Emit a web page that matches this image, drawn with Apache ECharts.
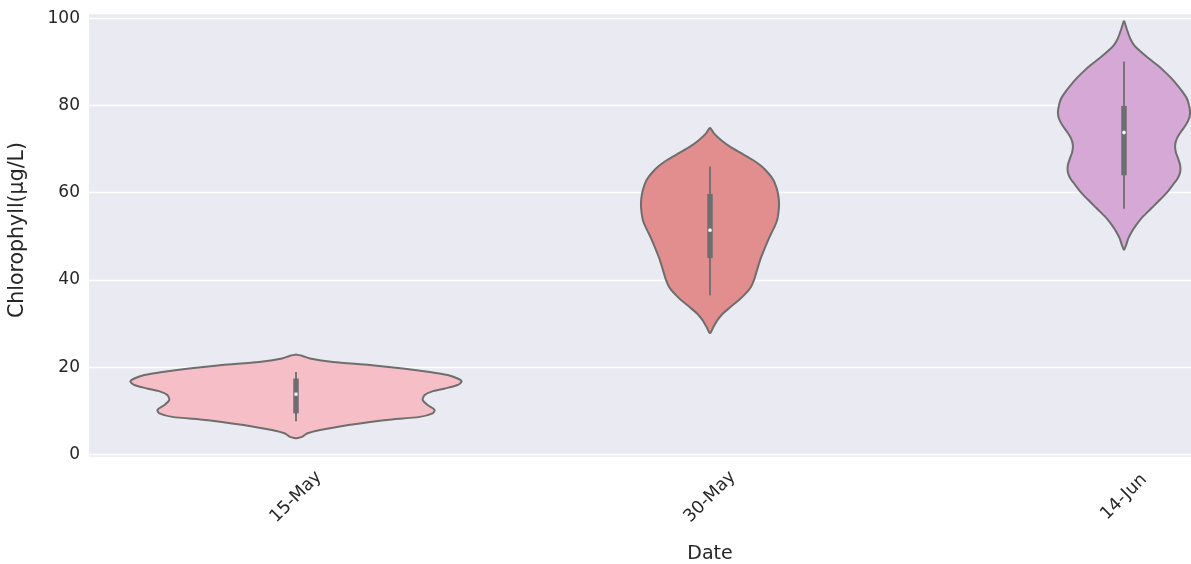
<!DOCTYPE html>
<html>
<head>
<meta charset="utf-8">
<script src="https://cdn.jsdelivr.net/npm/echarts@6/dist/echarts.min.js"></script>
<style>
  html, body { margin: 0; padding: 0; background: #ffffff; }
  #chart { width: 1191px; height: 564px; }
</style>
</head>
<body>
<div id="chart"></div>
<script>
// Sampling dates (categories)
const categories = ['15-May', '30-May', '14-Jun'];

// Violin outlines: chlorophyll level (µg/L) and relative kernel density at that level
const may15Levels  = [22.9, 22.6, 22.0, 21.2, 20.5, 19.7, 18.9, 18.2, 17.4, 16.7, 15.9, 15.1, 14.4, 13.6, 12.5, 11.3, 10.2, 9.4, 8.6, 7.9, 7.1, 6.3, 5.6, 4.8, 4.0, 3.7];
const may15Density = [0, 0.036, 0.084, 0.223, 0.446, 0.645, 0.807, 0.916, 0.976, 1.0, 0.976, 0.898, 0.819, 0.777, 0.765, 0.795, 0.837, 0.825, 0.747, 0.548, 0.386, 0.247, 0.145, 0.066, 0.036, 0];

const may30Levels  = [74.8, 73.6, 72.1, 70.5, 69.0, 67.5, 66.0, 64.4, 62.9, 61.4, 59.9, 57.6, 55.3, 53.7, 52.2, 50.7, 49.2, 47.6, 46.1, 44.6, 43.0, 41.5, 40.0, 38.4, 36.9, 35.4, 33.9, 32.3, 30.8, 29.3, 27.9];
const may30Density = [0.003, 0.024, 0.066, 0.123, 0.191, 0.259, 0.313, 0.354, 0.383, 0.399, 0.410, 0.417, 0.413, 0.405, 0.390, 0.370, 0.352, 0.334, 0.318, 0.303, 0.290, 0.278, 0.266, 0.247, 0.216, 0.175, 0.127, 0.078, 0.045, 0.022, 0.004];

const jun14Levels  = [99.3, 97.6, 95.3, 93.8, 92.3, 90.7, 89.2, 87.7, 86.2, 84.6, 83.1, 81.6, 80.0, 78.5, 77.0, 75.5, 73.9, 72.4, 70.9, 69.3, 67.8, 66.3, 64.7, 63.2, 61.7, 60.2, 58.6, 57.1, 55.6, 54.0, 52.5, 51.0, 49.5, 47.9, 47.0];
const jun14Density = [0.002, 0.016, 0.038, 0.062, 0.102, 0.152, 0.203, 0.247, 0.287, 0.323, 0.354, 0.380, 0.393, 0.399, 0.393, 0.373, 0.343, 0.319, 0.309, 0.313, 0.327, 0.339, 0.339, 0.323, 0.293, 0.263, 0.223, 0.183, 0.143, 0.102, 0.072, 0.046, 0.026, 0.012, 0.002];

// Inner box statistics per date
const whiskerLow  = [7.6, 36.5, 56.3];
const quartile1   = [9.4, 45.0, 64.0];
const medians     = [13.8, 51.4, 73.8];
const quartile3   = [17.4, 59.7, 79.9];
const whiskerHigh = [18.9, 66.0, 90.1];

// Y axis tick labels
const yTicks = [0, 20, 40, 60, 80, 100];

const violinColors = ['#F6BFC7', '#E28E8E', '#D5A8D5'];
const outlineGray = '#6E6E6E';
const textColor = '#262626';
const FONT = 'DejaVu Sans';

const profiles = [
  { levels: may15Levels, density: may15Density },
  { levels: may30Levels, density: may30Density },
  { levels: jun14Levels, density: jun14Density }
];

function renderViolin(params, api) {
  const i = api.value(0);
  const prof = profiles[i];
  const band = api.size([1, 0])[0];
  const cx = api.coord([i, 0])[0];
  const halfMax = 0.4 * band;
  const right = [];
  const left = [];
  for (let k = 0; k < prof.levels.length; k++) {
    const y = api.coord([i, prof.levels[k]])[1];
    const w = prof.density[k] * halfMax;
    right.push([cx + w, y]);
    left.unshift([cx - w, y]);
  }
  const yLo = api.coord([i, whiskerLow[i]])[1];
  const yHi = api.coord([i, whiskerHigh[i]])[1];
  const yQ1 = api.coord([i, quartile1[i]])[1];
  const yQ3 = api.coord([i, quartile3[i]])[1];
  const yMed = api.coord([i, medians[i]])[1];
  return {
    type: 'group',
    children: [
      {
        type: 'polygon',
        shape: { points: right.concat(left), smooth: 0.25 },
        style: { fill: violinColors[i], stroke: outlineGray, lineWidth: 2, lineJoin: 'round' }
      },
      {
        type: 'line',
        shape: { x1: cx, y1: yLo, x2: cx, y2: yHi },
        style: { stroke: outlineGray, lineWidth: 1.8 }
      },
      {
        type: 'line',
        shape: { x1: cx, y1: yQ1, x2: cx, y2: yQ3 },
        style: { stroke: outlineGray, lineWidth: 5.5, lineCap: 'butt' }
      },
      {
        type: 'circle',
        shape: { cx: cx, cy: yMed, r: 1.9 },
        style: { fill: '#ffffff', stroke: outlineGray, lineWidth: 0.3 }
      }
    ]
  };
}

const chart = echarts.init(document.getElementById('chart'), null, { renderer: 'canvas' });
chart.setOption({
  animation: false,
  backgroundColor: '#ffffff',
  textStyle: { fontFamily: FONT },
  grid: {
    left: 89, top: 13, width: 1242, height: 444,
    show: true, backgroundColor: '#EAEAF2', borderWidth: 0,
    containLabel: false, outerBoundsMode: 'none'
  },
  xAxis: {
    type: 'category',
    data: categories,
    boundaryGap: true,
    axisLine: { show: false },
    axisTick: { show: false },
    splitLine: { show: false },
    axisLabel: {
      rotate: 45, align: 'center', verticalAlign: 'middle', margin: 40,
      fontSize: 17.5, color: textColor, fontFamily: FONT
    },
    name: 'Date',
    nameLocation: 'middle',
    nameGap: 88,
    nameTextStyle: { fontSize: 19, color: textColor, fontFamily: FONT }
  },
  yAxis: {
    type: 'value',
    min: -0.6,
    max: 101.2,
    splitNumber: 5,
    axisLine: { show: false },
    axisTick: { show: false },
    splitLine: { show: true, lineStyle: { color: '#ffffff', width: 1.3 } },
    axisLabel: {
      margin: 9, fontSize: 17, color: textColor, fontFamily: FONT,
      showMinLabel: false, showMaxLabel: false,
      formatter: function (v) { return yTicks.indexOf(v) >= 0 ? String(v) : ''; }
    },
    name: 'Chlorophyll(μg/L)',
    nameLocation: 'middle',
    nameGap: 61,
    nameTextStyle: { fontSize: 20.5, color: textColor, fontFamily: FONT, padding: [0, 0, 0, 10] }
  },
  series: [{
    type: 'custom',
    renderItem: renderViolin,
    data: categories.map(function (c, i) { return [i]; }),
    encode: { x: 0 },
    clip: false,
    z: 3
  }]
});
</script>
</body>
</html>
